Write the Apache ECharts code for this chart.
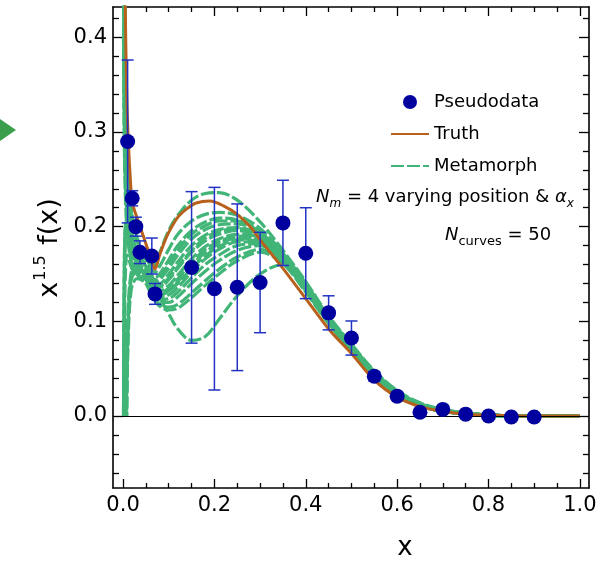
<!DOCTYPE html>
<html><head><meta charset="utf-8">
<script src="https://cdn.jsdelivr.net/npm/echarts@6/dist/echarts.min.js"></script>
<style>html,body{margin:0;padding:0;background:#fff}#c{width:605px;height:564px}</style>
</head><body><div id="c"></div>
<script>
// ---- tick values ----
const xMajorTicks = [0, 0.2, 0.4, 0.6, 0.8, 1.0];
const xMinorTicks = [0.05, 0.1, 0.15, 0.25, 0.3, 0.35, 0.45, 0.5, 0.55, 0.65, 0.7, 0.75, 0.85, 0.9, 0.95];
const yMajorTicks = [0, 0.1, 0.2, 0.3, 0.4];
const yMinorTicks = [-0.06, -0.04, -0.02, 0.02, 0.04, 0.06, 0.08, 0.12, 0.14, 0.16, 0.18, 0.22, 0.24, 0.26, 0.28, 0.32, 0.34, 0.36, 0.38, 0.42];

// ---- pseudodata ----
const pdX   = [0.01, 0.02, 0.028, 0.037, 0.063, 0.07, 0.15, 0.2, 0.25, 0.3, 0.35, 0.4, 0.45, 0.5, 0.55, 0.6, 0.65, 0.7, 0.75, 0.8, 0.85, 0.9];
const pdY   = [0.29, 0.23, 0.20, 0.173, 0.169, 0.129, 0.157, 0.1345, 0.136, 0.141, 0.204, 0.172, 0.109, 0.0824, 0.042, 0.021, 0.004, 0.007, 0.002, 0.0, -0.001, -0.001];
const pdErr = [0.086, 0.008, 0.010, 0.012, 0.019, 0.011, 0.080, 0.107, 0.088, 0.053, 0.045, 0.048, 0.018, 0.018, 0.005, 0.004, 0.003, 0.002, 0.001, 0.001, 0.001, 0.001];

// ---- truth ----
const xTruth = [0.004, 0.008, 0.012, 0.016, 0.02, 0.03, 0.04, 0.05, 0.06, 0.07, 0.08, 0.09, 0.10, 0.12, 0.14, 0.16, 0.19, 0.22, 0.25, 0.28, 0.30, 0.35, 0.40, 0.45, 0.50, 0.55, 0.60, 0.65, 0.70, 0.75, 0.80, 0.90, 1.0];
const yTruth = [0.46, 0.34, 0.285, 0.25, 0.226, 0.210, 0.196, 0.182, 0.168, 0.155, 0.170, 0.183, 0.194, 0.210, 0.219, 0.225, 0.227, 0.222, 0.213, 0.199, 0.186, 0.156, 0.124, 0.092, 0.066, 0.038, 0.020, 0.010, 0.005, 0.002, 0.001, 0, 0];

// ---- metamorph curves (null = curve not drawn there) ----
const xMeta = [0.001, 0.002, 0.003, 0.004, 0.006, 0.008, 0.01, 0.013, 0.016, 0.02, 0.03, 0.04, 0.05, 0.06, 0.07, 0.08, 0.1, 0.12, 0.15, 0.18, 0.21, 0.25, 0.3, 0.35, 0.4, 0.45, 0.5, 0.55, 0.6, 0.65, 0.7, 0.8, 0.9, 1.0];
const meta01 = [0.95, 0.62, 0.5, 0.43, 0.35, 0.31, 0.28, 0.25, 0.23, 0.212, 0.19, 0.177, 0.168, 0.160, 0.160, 0.172, 0.196, 0.212, 0.228, 0.235, 0.236, 0.228, 0.205, 0.175, 0.142, 0.106, 0.076, 0.048, 0.027, 0.014, 0.007, 0.001, 0, 0];
const meta02 = [0.9, 0.6, 0.48, 0.41, 0.34, 0.30, 0.27, 0.245, 0.225, 0.208, 0.186, 0.174, 0.165, 0.156, 0.152, 0.158, 0.176, 0.192, 0.206, 0.213, 0.215, 0.212, 0.198, 0.172, 0.140, 0.105, 0.075, 0.047, 0.026, 0.013, 0.006, 0.001, 0, 0];
const meta03 = [0.0, 0.1, 0.16, 0.19, 0.205, 0.205, 0.2, 0.192, 0.185, 0.178, 0.17, 0.164, 0.160, 0.150, 0.146, 0.150, 0.165, 0.180, 0.196, 0.205, 0.209, 0.207, 0.195, 0.171, 0.139, 0.104, 0.074, 0.046, 0.026, 0.013, 0.006, 0.001, 0, 0];
const meta04 = [0.6, 0.45, 0.38, 0.33, 0.28, 0.25, 0.23, 0.21, 0.198, 0.188, 0.175, 0.165, 0.158, 0.148, 0.142, 0.144, 0.156, 0.170, 0.187, 0.197, 0.202, 0.203, 0.193, 0.170, 0.138, 0.103, 0.073, 0.046, 0.025, 0.013, 0.006, 0.001, 0, 0];
const meta05 = [null, null, null, null, 0.0, 0.05, 0.1, 0.13, 0.145, 0.155, 0.16, 0.158, 0.155, 0.145, 0.140, 0.140, 0.150, 0.163, 0.180, 0.191, 0.197, 0.199, 0.191, 0.169, 0.137, 0.102, 0.072, 0.045, 0.025, 0.012, 0.006, 0.001, 0, 0];
const meta06 = [0.55, 0.42, 0.35, 0.31, 0.265, 0.24, 0.22, 0.203, 0.19, 0.18, 0.166, 0.158, 0.152, 0.142, 0.137, 0.136, 0.144, 0.156, 0.173, 0.185, 0.192, 0.196, 0.189, 0.168, 0.136, 0.101, 0.072, 0.045, 0.025, 0.012, 0.006, 0.001, 0, 0];
const meta07 = [0.0, 0.08, 0.14, 0.17, 0.19, 0.192, 0.188, 0.18, 0.172, 0.165, 0.158, 0.153, 0.150, 0.140, 0.134, 0.132, 0.138, 0.149, 0.166, 0.179, 0.187, 0.192, 0.188, 0.167, 0.135, 0.100, 0.071, 0.044, 0.024, 0.012, 0.005, 0.001, 0, 0];
const meta08 = [null, null, null, null, null, 0.0, 0.07, 0.115, 0.135, 0.147, 0.152, 0.15, 0.148, 0.138, 0.131, 0.128, 0.132, 0.142, 0.159, 0.173, 0.182, 0.188, 0.186, 0.166, 0.134, 0.100, 0.071, 0.044, 0.024, 0.012, 0.005, 0.001, 0, 0];
const meta09 = [0.85, 0.56, 0.45, 0.39, 0.32, 0.28, 0.255, 0.23, 0.21, 0.193, 0.170, 0.156, 0.146, 0.136, 0.129, 0.126, 0.128, 0.136, 0.152, 0.166, 0.176, 0.184, 0.184, 0.165, 0.134, 0.099, 0.070, 0.043, 0.024, 0.012, 0.005, 0.001, 0, 0];
const meta10 = [null, 0.0, 0.09, 0.13, 0.16, 0.17, 0.17, 0.165, 0.16, 0.155, 0.15, 0.147, 0.145, 0.135, 0.127, 0.123, 0.124, 0.131, 0.146, 0.160, 0.170, 0.180, 0.182, 0.164, 0.133, 0.099, 0.070, 0.043, 0.023, 0.011, 0.005, 0.001, 0, 0];
const meta11 = [0.5, 0.38, 0.32, 0.28, 0.24, 0.22, 0.205, 0.19, 0.178, 0.168, 0.156, 0.149, 0.144, 0.134, 0.126, 0.121, 0.120, 0.126, 0.140, 0.153, 0.164, 0.175, 0.180, 0.163, 0.132, 0.098, 0.069, 0.042, 0.023, 0.011, 0.005, 0.001, 0, 0];
const meta12 = [null, null, null, null, null, 0.0, 0.06, 0.105, 0.125, 0.138, 0.145, 0.144, 0.142, 0.132, 0.124, 0.118, 0.115, 0.118, 0.130, 0.143, 0.155, 0.168, 0.176, 0.162, 0.131, 0.098, 0.069, 0.042, 0.023, 0.011, 0.005, 0.001, 0, 0];
const meta13 = [0.45, 0.35, 0.30, 0.27, 0.235, 0.215, 0.2, 0.187, 0.177, 0.17, 0.16, 0.154, 0.150, 0.143, 0.135, 0.125, 0.108, 0.092, 0.080, 0.084, 0.102, 0.127, 0.150, 0.160, 0.138, 0.100, 0.070, 0.043, 0.023, 0.011, 0.005, 0.001, 0, 0];
const meta14 = [0.7, 0.5, 0.42, 0.36, 0.3, 0.265, 0.24, 0.218, 0.203, 0.19, 0.176, 0.166, 0.158, 0.149, 0.144, 0.147, 0.160, 0.175, 0.192, 0.201, 0.206, 0.206, 0.194, 0.171, 0.139, 0.104, 0.074, 0.046, 0.026, 0.013, 0.006, 0.001, 0, 0];
const meta15 = [0.0, 0.12, 0.17, 0.19, 0.2, 0.198, 0.193, 0.185, 0.177, 0.17, 0.162, 0.157, 0.153, 0.143, 0.137, 0.137, 0.146, 0.158, 0.175, 0.188, 0.195, 0.198, 0.190, 0.168, 0.136, 0.101, 0.072, 0.045, 0.025, 0.012, 0.006, 0.001, 0, 0];
const meta16 = [0.65, 0.48, 0.4, 0.35, 0.29, 0.26, 0.235, 0.212, 0.197, 0.184, 0.166, 0.155, 0.147, 0.137, 0.130, 0.128, 0.132, 0.140, 0.156, 0.169, 0.179, 0.186, 0.185, 0.165, 0.134, 0.099, 0.070, 0.043, 0.024, 0.012, 0.005, 0.001, 0, 0];
const meta17 = [null, null, null, null, 0.0, 0.04, 0.085, 0.12, 0.14, 0.15, 0.155, 0.152, 0.150, 0.140, 0.132, 0.130, 0.135, 0.145, 0.162, 0.176, 0.184, 0.190, 0.187, 0.166, 0.135, 0.100, 0.071, 0.044, 0.024, 0.012, 0.005, 0.001, 0, 0];
const meta18 = [0.4, 0.32, 0.28, 0.25, 0.22, 0.2, 0.188, 0.176, 0.167, 0.16, 0.15, 0.144, 0.140, 0.130, 0.122, 0.116, 0.112, 0.114, 0.125, 0.138, 0.150, 0.164, 0.173, 0.161, 0.131, 0.098, 0.069, 0.042, 0.023, 0.011, 0.005, 0.001, 0, 0];
const metaCurves = [meta13, meta18, meta12, meta11, meta17, meta10, meta16, meta09, meta08, meta07, meta15, meta06, meta05, meta04, meta14, meta03, meta02, meta01];

const GREEN = '#41b577';
const ORANGE = '#b8611c';
const BLUE_PT = '#00009e';
const BLUE_ERR = '#2233c4';
const FONT = 'DejaVu Sans';

const chart = echarts.init(document.getElementById('c'), null, {renderer: 'canvas'});

const metaSeries = metaCurves.map((c, k) => ({
  name: 'Metamorph',
  type: 'line',
  data: xMeta.map((x, i) => [x, c[i] === null ? '-' : c[i]]),
  connectNulls: false,
  symbol: 'none', showSymbol: false,
  smooth: 0.35,
  clip: true,
  silent: true,
  lineStyle: {color: GREEN, width: 3.2, type: [13, 3], dashOffset: k * 5},
  itemStyle: {color: GREEN},
  z: 2
}));

const xAx = (pos, ticks, len, showLine, showLabel) => ({
  type: 'value', min: -0.022, max: 1.02, position: pos, gridIndex: 0,
  axisLine: {show: showLine, onZero: false, lineStyle: {color: '#000', width: 1.6}},
  axisTick: {show: true, inside: true, length: len, customValues: ticks, lineStyle: {color: '#000', width: 1.3}},
  axisLabel: showLabel ? {show: true, customValues: ticks, formatter: v => v.toFixed(1), fontFamily: FONT, fontSize: 21, color: '#000', margin: 7} : {show: false},
  splitLine: {show: false}
});
const yAx = (pos, ticks, len, showLine, showLabel) => ({
  type: 'value', min: -0.076, max: 0.432, position: pos, gridIndex: 0,
  axisLine: {show: showLine, onZero: false, lineStyle: {color: '#000', width: 1.6}},
  axisTick: {show: true, inside: true, length: len, customValues: ticks, lineStyle: {color: '#000', width: 1.3}},
  axisLabel: showLabel ? {show: true, customValues: ticks, formatter: v => v.toFixed(1), fontFamily: FONT, fontSize: 21, color: '#000', margin: 6} : {show: false},
  splitLine: {show: false}
});

const option = {
  animation: false,
  backgroundColor: '#fff',
  grid: {left: 113, right: 16, top: 7, bottom: 76, containLabel: false},
  xAxis: [
    xAx('bottom', xMajorTicks, 9, true, true),
    xAx('bottom', xMinorTicks, 5, false, false),
    xAx('top', xMajorTicks, 9, true, false),
    xAx('top', xMinorTicks, 5, false, false)
  ],
  yAxis: [
    yAx('left', yMajorTicks, 10, true, true),
    yAx('left', yMinorTicks, 6, false, false),
    yAx('right', yMajorTicks, 10, true, false),
    yAx('right', yMinorTicks, 6, false, false)
  ],
  legend: {
    data: [
      {name: 'Pseudodata'},
      {name: 'Truth', itemStyle: {opacity: 0}},
      {name: 'Metamorph', itemStyle: {opacity: 0}}
    ],
    orient: 'vertical', left: 385, top: 88,
    itemWidth: 38, itemHeight: 14, itemGap: 14,
    textStyle: {fontFamily: FONT, fontSize: 18, color: '#000'},
    selectedMode: false
  },
  series: [
    ...metaSeries,
    {
      name: 'Truth', type: 'line',
      data: xTruth.map((x, i) => [x, yTruth[i]]),
      symbol: 'none', showSymbol: false, smooth: 0.3, clip: true, silent: true,
      lineStyle: {color: ORANGE, width: 3},
      itemStyle: {color: ORANGE},
      z: 3,
      markLine: {
        silent: true, symbol: 'none', label: {show: false},
        lineStyle: {color: '#000', width: 1.2, type: 'solid'},
        data: [{yAxis: 0}]
      }
    },
    {
      name: 'errbars', type: 'custom', clip: true, silent: true, z: 4,
      data: pdX.map((x, i) => [x, pdY[i] - pdErr[i], pdY[i] + pdErr[i]]),
      encode: {x: 0, y: [1, 2]},
      renderItem: (params, api) => {
        const x = api.value(0);
        const lo = api.coord([x, api.value(1)]);
        const hi = api.coord([x, api.value(2)]);
        const cw = 6;
        const st = {stroke: BLUE_ERR, lineWidth: 1.5};
        return {type: 'group', children: [
          {type: 'line', shape: {x1: lo[0], y1: lo[1], x2: hi[0], y2: hi[1]}, style: st},
          {type: 'line', shape: {x1: lo[0] - cw, y1: lo[1], x2: lo[0] + cw, y2: lo[1]}, style: st},
          {type: 'line', shape: {x1: hi[0] - cw, y1: hi[1], x2: hi[0] + cw, y2: hi[1]}, style: st}
        ]};
      }
    },
    {
      name: 'Pseudodata', type: 'scatter',
      data: pdX.map((x, i) => [x, pdY[i]]),
      symbol: 'circle', symbolSize: 15, silent: true,
      itemStyle: {color: BLUE_PT, opacity: 1},
      z: 5
    }
  ],
  graphic: [
    {type: 'polygon', shape: {points: [[0, 119], [16, 130], [0, 141]]}, style: {fill: '#3a9e4c'}},
    {
      type: 'text', x: 48, y: 248, rotation: Math.PI / 2,
      style: {
        text: '{m|x}{s|1.5}{m| f(x)}',
        align: 'center', verticalAlign: 'middle',
        rich: {
          m: {fontFamily: FONT, fontSize: 27, lineHeight: 31, verticalAlign: 'bottom', fill: '#000'},
          s: {fontFamily: FONT, fontSize: 16, lineHeight: 16, padding: [0, 2, 19, 1], verticalAlign: 'top', fill: '#000'}
        }
      }
    },
    {type: 'text', x: 405, y: 548, style: {text: 'x', fontFamily: FONT, fontSize: 26, fill: '#000', align: 'center', verticalAlign: 'middle'}},
    {
      type: 'text', x: 316, y: 199,
      style: {
        text: '{i|N}{sb|m}{n| = 4 varying position & }{i|α}{sb|x}',
        align: 'left', verticalAlign: 'middle',
        rich: {
          i: {fontFamily: FONT, fontStyle: 'italic', fontSize: 18, lineHeight: 22, verticalAlign: 'top', fill: '#000'},
          n: {fontFamily: FONT, fontSize: 18, lineHeight: 22, verticalAlign: 'top', fill: '#000'},
          sb: {fontFamily: FONT, fontStyle: 'italic', fontSize: 12, lineHeight: 12, padding: [13, 0, 0, 0], verticalAlign: 'bottom', fill: '#000'}
        }
      }
    },
    {
      type: 'text', x: 445, y: 237,
      style: {
        text: '{i|N}{sb|curves}{n| = 50}',
        align: 'left', verticalAlign: 'middle',
        rich: {
          i: {fontFamily: FONT, fontStyle: 'italic', fontSize: 18, lineHeight: 22, verticalAlign: 'top', fill: '#000'},
          n: {fontFamily: FONT, fontSize: 18, lineHeight: 22, verticalAlign: 'top', fill: '#000'},
          sb: {fontFamily: FONT, fontSize: 13, lineHeight: 13, padding: [12, 0, 0, 0], verticalAlign: 'bottom', fill: '#000'}
        }
      }
    }
  ]
};
chart.setOption(option);
</script>
</body></html>
